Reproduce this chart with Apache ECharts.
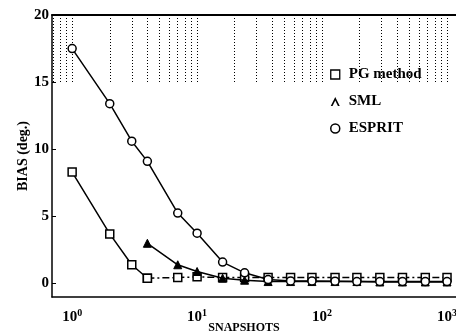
<!DOCTYPE html>
<html>
<head>
<meta charset="utf-8">
<script src="https://cdn.jsdelivr.net/npm/echarts@6/dist/echarts.min.js"></script>
<style>
  html, body { margin: 0; padding: 0; background: #fff; }
  #chart { width: 456px; height: 334px; }
</style>
</head>
<body>
<div id="chart"></div>
<script>
// snapshots (log axis)
const snapshots = [1, 2, 3, 4, 7, 10, 16, 24, 37, 56, 83, 127, 190, 290, 440, 670, 1000]
// bias in degrees, null where the method has no point
const pgBias = [8.3, 3.7, 1.4, 0.4, 0.45, 0.5, 0.45, 0.45, 0.45, 0.45, 0.45, 0.45, 0.45, 0.45, 0.45, 0.45, 0.45]
const smlBias = [null, null, null, 3.0, 1.4, 0.9, 0.4, 0.25, 0.15, 0.15, 0.15, 0.15, 0.15, 0.12, 0.12, 0.12, 0.12]
const espritBias = [17.5, 13.4, 10.6, 9.1, 5.25, 3.75, 1.6, 0.8, 0.3, 0.2, 0.2, 0.18, 0.15, 0.15, 0.15, 0.15, 0.15]
// dotted grid positions in the top band (15..20)
const gridX = [0.7, 0.8, 0.9, 1, 2, 3, 4, 5, 6, 7, 8, 9, 10, 20, 30, 40, 50, 60, 70, 80, 90, 100,
  200, 300, 400, 500, 600, 700, 800, 900, 1000]
const yTicks = [0, 5, 10, 15, 20]

const serif = 'Liberation Serif'
const pgSplit = 3 // PG solid up to x=4, dash-dot afterwards

const pair = (xs, ys) => xs.map((x, i) => [x, ys[i]]).filter(p => p[1] !== null)

const chart = echarts.init(document.getElementById('chart'))

const option = {
  animation: false,
  grid: { left: 52, top: 15, right: 0, bottom: 37, containLabel: false, outerBoundsMode: 'none' },
  legend: {
    orient: 'vertical',
    left: 325,
    top: 62,
    itemGap: 12,
    itemWidth: 9,
    itemHeight: 9,
    textStyle: { fontFamily: serif, fontSize: 15, fontWeight: 'bold', color: '#000', padding: [0, 0, 0, 4] },
    data: [
      { name: 'PG method', icon: 'rect', itemStyle: { color: '#fff', borderColor: '#000', borderWidth: 1.3 } },
      { name: 'SML', icon: 'path://M0,10 L5,0 L10,10 L8,10 L5,4 L2,10 Z', itemStyle: { color: '#000', borderWidth: 0 } },
      { name: 'ESPRIT', icon: 'circle', itemStyle: { color: '#fff', borderColor: '#000', borderWidth: 1.5 } }
    ]
  },
  xAxis: [{
    type: 'log',
    min: 0.69,
    max: 1180,
    name: 'SNAPSHOTS',
    nameLocation: 'middle',
    nameGap: 25,
    nameMoveOverlap: false,
    nameTextStyle: { fontFamily: serif, fontSize: 12, fontWeight: 'bold', color: '#000', padding: [0, 20, 0, 0] },
    axisLine: { onZero: false, lineStyle: { color: '#000', width: 1.5 } },
    axisTick: { show: false },
    splitLine: { show: false },
    axisLabel: {
      margin: 11,
      showMinLabel: false,
      showMaxLabel: false,
      formatter: v => {
        const e = Math.round(Math.log10(v))
        if (Math.abs(Math.log10(v) - e) > 1e-6) return ''
        return '{b|10}{s|' + e + '}'
      },
      rich: {
        b: { fontFamily: serif, fontSize: 15, fontWeight: 'bold', color: '#000', lineHeight: 18 },
        s: { fontFamily: serif, fontSize: 10, fontWeight: 'bold', color: '#000', verticalAlign: 'top', lineHeight: 18 }
      }
    }
  }, {
    type: 'log',
    position: 'top',
    min: 0.69,
    max: 1180,
    axisLine: { onZero: false, lineStyle: { color: '#000', width: 2 } },
    axisTick: { show: false },
    axisLabel: { show: false },
    splitLine: { show: false }
  }],
  yAxis: {
    type: 'value',
    min: -1,
    max: 20,
    name: 'BIAS (deg.)',
    nameLocation: 'middle',
    nameGap: 22,
    nameMoveOverlap: false,
    nameTextStyle: { fontFamily: serif, fontSize: 14, fontWeight: 'bold', color: '#000' },
    axisLine: { lineStyle: { color: '#000', width: 1.5 } },
    axisTick: { inside: true, length: 4, customValues: yTicks, lineStyle: { color: '#000' } },
    splitLine: { show: false },
    axisLabel: {
      customValues: yTicks,
      margin: 3,
      fontFamily: serif,
      fontSize: 15,
      fontWeight: 'bold',
      color: '#000'
    }
  },
  series: [
    {
      name: 'PG method',
      type: 'line',
      data: pair(snapshots.slice(0, pgSplit + 1), pgBias.slice(0, pgSplit + 1)),
      symbol: 'rect',
      symbolSize: 8,
      itemStyle: { color: '#fff', borderColor: '#000', borderWidth: 1.5 },
      lineStyle: { color: '#000', width: 1.5 },
      z: 3
    },
    {
      name: 'PG method',
      type: 'line',
      data: pair(snapshots.slice(pgSplit), pgBias.slice(pgSplit)),
      symbol: 'rect',
      symbolSize: 8,
      itemStyle: { color: '#fff', borderColor: '#000', borderWidth: 1.5 },
      lineStyle: { color: '#000', width: 1.5, type: [7, 3, 2, 3] },
      z: 3
    },
    {
      name: 'SML',
      type: 'line',
      data: pair(snapshots, smlBias),
      symbol: 'triangle',
      symbolSize: 8,
      itemStyle: { color: '#000', borderColor: '#000', borderWidth: 1 },
      lineStyle: { color: '#000', width: 1.5 },
      z: 4
    },
    {
      name: 'ESPRIT',
      type: 'line',
      data: pair(snapshots, espritBias),
      symbol: 'circle',
      symbolSize: 8,
      itemStyle: { color: '#fff', borderColor: '#000', borderWidth: 1.5 },
      lineStyle: { color: '#000', width: 1.5 },
      z: 5,
      markLine: {
        silent: true,
        symbol: 'none',
        label: { show: false },
        lineStyle: { color: '#000', type: [1, 2], width: 1 },
        data: gridX.map(x => [{ coord: [x, 20] }, { coord: [x, 15] }])
      }
    }
  ]
}

chart.setOption(option)
</script>
</body>
</html>
